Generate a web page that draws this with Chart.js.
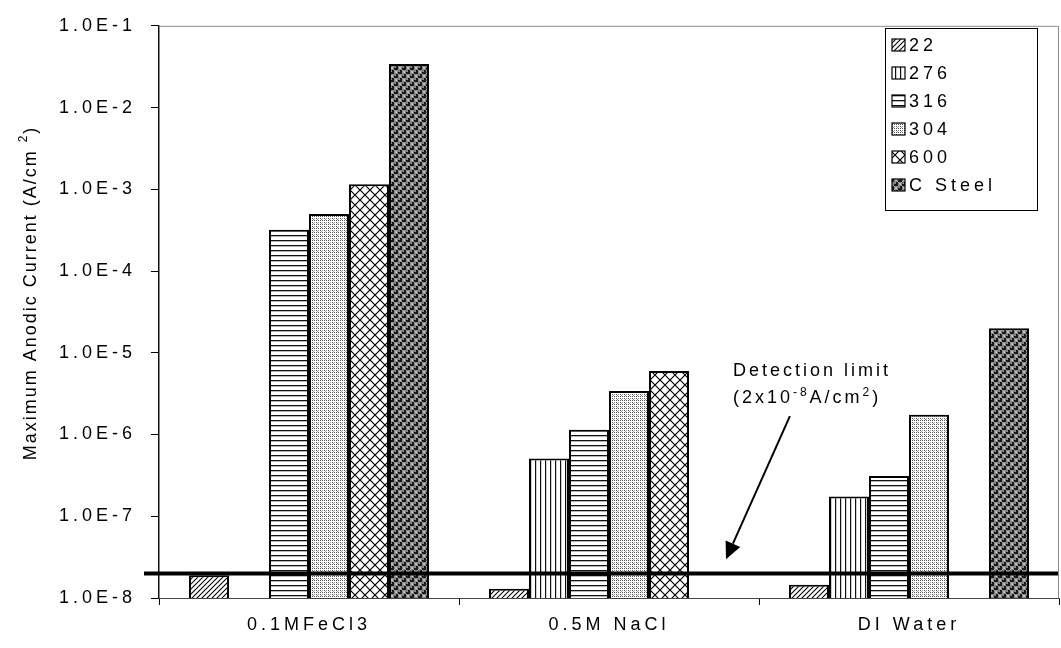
<!DOCTYPE html>
<html>
<head>
<meta charset="utf-8">
<script src="https://cdn.jsdelivr.net/npm/chart.js@4.4.0/dist/chart.umd.min.js"></script>
<style>
  html, body { margin: 0; padding: 0; background: #fff; }
  #wrap { width: 1061px; height: 648px; }
</style>
</head>
<body>
<div id="wrap"><canvas id="chart" width="1061" height="648"></canvas></div>
<script>
// Test solutions (x categories)
const categories = ['0.1MFeCl3', '0.5M NaCl', 'DI Water'];
// Alloy names, in series order
const alloys = ['22', '276', '316', '304', '600', 'C Steel'];
// Maximum anodic current, A/cm^2 (null = not measured)
const alloy22     = [1.9e-8, 1.3e-8, 1.45e-8];
const alloy276    = [null,   5.1e-7, 1.75e-7];
const alloy316    = [3.2e-4, 1.14e-6, 3.1e-7];
const alloy304    = [5.0e-4, 3.4e-6, 1.75e-6];
const alloy600    = [1.15e-3, 6.0e-6, null];
const carbonSteel = [3.4e-2, null,   2.0e-5];
// Log axis ticks
const yTickValues = [1e-8, 1e-7, 1e-6, 1e-5, 1e-4, 1e-3, 1e-2, 1e-1];
// Instrument detection limit, A/cm^2
const detectionLimit = 2e-8;

const FONT = "'Liberation Sans', Arial, Helvetica, sans-serif";
const canvas = document.getElementById('chart');
const ctx = canvas.getContext('2d');

// ---- fill patterns -------------------------------------------------------
function makePattern(w, h, paint) {
  const c = document.createElement('canvas');
  c.width = w; c.height = h;
  const g = c.getContext('2d');
  g.fillStyle = '#fff';
  g.fillRect(0, 0, w, h);
  paint(g, w, h);
  return ctx.createPattern(c, 'repeat');
}

const patDiagonal = makePattern(5, 5, (g, w, h) => {
  g.strokeStyle = '#000'; g.lineWidth = 1.1;
  for (let k = -1; k <= 1; k++) {
    g.beginPath();
    g.moveTo(-1 + k * w, h + 1);
    g.lineTo(w + 1 + k * w, -1);
    g.stroke();
  }
});
const patVertical = makePattern(5, 4, (g, w, h) => {
  g.fillStyle = '#111';
  g.fillRect(0, 0, 1.2, h);
});
const patHorizontal = makePattern(4, 5, (g, w, h) => {
  g.fillStyle = '#111';
  g.fillRect(0, 0, w, 1.3);
});
const patDotGrid = makePattern(4, 4, (g, w, h) => {
  g.fillStyle = '#555';
  g.fillRect(0, 0, 1, 1);
  g.fillRect(2, 0, 1, 1);
  g.fillRect(0, 2, 1, 1);
  g.fillStyle = '#999';
  g.fillRect(2, 2, 1, 1);
  g.fillRect(1, 3, 1, 1);
});
const patCross = makePattern(10, 10, (g, w, h) => {
  g.strokeStyle = '#000'; g.lineWidth = 1.2;
  g.beginPath();
  g.moveTo(0, 0); g.lineTo(w, h);
  g.moveTo(w, 0); g.lineTo(0, h);
  g.stroke();
});
const patBalls = makePattern(8, 8, (g, w, h) => {
  g.fillStyle = '#c4c4c4';
  g.fillRect(0, 0, w, h);
  const pts = [[0, 0], [w, 0], [0, h], [w, h], [w / 2, h / 2]];
  for (const [x, y] of pts) {
    g.fillStyle = '#1a1a1a';
    g.beginPath(); g.arc(x, y, 2.5, 0, Math.PI * 2); g.fill();
    g.fillStyle = '#f2f2f2';
    g.beginPath(); g.arc(x - 0.9, y - 0.9, 0.8, 0, Math.PI * 2); g.fill();
  }
});

const seriesValues = [alloy22, alloy276, alloy316, alloy304, alloy600, carbonSteel];
const seriesFills = [patDiagonal, patVertical, patHorizontal, patDotGrid, patCross, patBalls];

const datasets = alloys.map((name, i) => ({
  label: name,
  data: seriesValues[i],
  backgroundColor: seriesFills[i],
  borderColor: '#000',
  borderWidth: 2,
  borderSkipped: 'start',
  categoryPercentage: 0.8,
  barPercentage: 1.0
}));

function expLabel(v) {
  const e = Math.round(Math.log10(v));
  return '1.0E' + e;
}

// ---- plugins -------------------------------------------------------------
const spacingPlugin = {
  id: 'letterSpacing',
  beforeDraw(chart) { chart.ctx.letterSpacing = '4px'; }
};

const framePlugin = {
  id: 'frame',
  afterDraw(chart) {
    const { ctx, chartArea: a } = chart;
    ctx.save();
    ctx.strokeStyle = '#8a8a8a';
    ctx.lineWidth = 1;
    ctx.beginPath();
    ctx.moveTo(a.left, a.top + 0.5);
    ctx.lineTo(a.right - 0.5, a.top + 0.5);
    ctx.lineTo(a.right - 0.5, a.bottom);
    ctx.stroke();
    ctx.restore();
  }
};

function drawSuperText(ctx, x, y, parts, size) {
  // parts: [text, isSuperscript]
  let cx = x;
  for (const [t, sup] of parts) {
    ctx.font = (sup ? Math.round(size * 0.65) : size) + 'px ' + FONT;
    ctx.fillText(t, cx, sup ? y - size * 0.42 : y);
    cx += ctx.measureText(t).width;
  }
}

const annotationPlugin = {
  id: 'detection',
  afterDatasetsDraw(chart) {
    const { ctx, chartArea: a } = chart;
    const xs = chart.scales.x, ys = chart.scales.y;
    ctx.save();
    ctx.letterSpacing = '0px';
    // detection limit line
    const yl = ys.getPixelForValue(detectionLimit);
    ctx.strokeStyle = '#000';
    ctx.lineWidth = 4;
    ctx.beginPath();
    ctx.moveTo(a.left - 15, yl);
    ctx.lineTo(a.right, yl);
    ctx.stroke();

    // arrow pointing at the line
    const tx = xs.getPixelForValue(1.603), ty = ys.getPixelForValue(1.68e-6);
    const hx = xs.getPixelForValue(1.39), hy = ys.getPixelForValue(2.98e-8);
    const ang = Math.atan2(hy - ty, hx - tx);
    const headLen = 17, headW = 8;
    const bx = hx - headLen * Math.cos(ang), by = hy - headLen * Math.sin(ang);
    ctx.lineWidth = 2;
    ctx.beginPath();
    ctx.moveTo(tx, ty);
    ctx.lineTo(bx, by);
    ctx.stroke();
    ctx.fillStyle = '#000';
    ctx.beginPath();
    ctx.moveTo(hx, hy);
    ctx.lineTo(bx + headW * Math.sin(ang), by - headW * Math.cos(ang));
    ctx.lineTo(bx - headW * Math.sin(ang), by + headW * Math.cos(ang));
    ctx.closePath();
    ctx.fill();

    // label
    ctx.letterSpacing = '3px';
    ctx.textAlign = 'left';
    ctx.textBaseline = 'alphabetic';
    const lx = xs.getPixelForValue(1.413);
    ctx.font = '18px ' + FONT;
    ctx.fillText('Detection limit', lx, ys.getPixelForValue(5.2e-6));
    drawSuperText(ctx, lx, ys.getPixelForValue(2.4e-6),
      [['(2x10', false], ['-8', true], ['A/cm', false], ['2', true], [')', false]], 18);
    ctx.restore();
  }
};

const legendPlugin = {
  id: 'boxLegend',
  afterDraw(chart) {
    const { ctx } = chart;
    const left = 885, top = 28, right = 1037, bottom = 210;
    ctx.save();
    ctx.fillStyle = '#fff';
    ctx.fillRect(left, top, right - left, bottom - top);
    ctx.strokeStyle = '#000';
    ctx.lineWidth = 1;
    ctx.strokeRect(left + 0.5, top + 0.5, right - left, bottom - top);
    ctx.letterSpacing = '4px';
    ctx.font = '18px ' + FONT;
    ctx.textBaseline = 'middle';
    ctx.textAlign = 'left';
    chart.data.datasets.forEach((ds, i) => {
      const cy = 45 + i * 28;
      ctx.fillStyle = ds.backgroundColor;
      ctx.fillRect(892, cy - 6, 13, 12);
      ctx.strokeStyle = '#000';
      ctx.lineWidth = 1.2;
      ctx.strokeRect(892, cy - 6, 13, 12);
      ctx.fillStyle = '#000';
      ctx.fillText(ds.label, 909, cy + 1);
    });
    ctx.restore();
  }
};

const yTitlePlugin = {
  id: 'yTitle',
  afterDraw(chart) {
    const { ctx } = chart;
    ctx.save();
    ctx.letterSpacing = '2px';
    ctx.translate(31, 293);
    ctx.rotate(-Math.PI / 2);
    ctx.fillStyle = '#000';
    ctx.textBaseline = 'middle';
    ctx.textAlign = 'left';
    const size = 18;
    const main = 'Maximum Anodic Current (A/cm ';
    ctx.font = size + 'px ' + FONT;
    const wMain = ctx.measureText(main).width;
    const wClose = ctx.measureText(')').width;
    ctx.font = '12px ' + FONT;
    const wSup = ctx.measureText('2').width;
    let x = -(wMain + wSup + wClose) / 2;
    ctx.font = size + 'px ' + FONT;
    ctx.fillText(main, x, 0);
    x += wMain;
    ctx.font = '12px ' + FONT;
    ctx.fillText('2', x, -7);
    x += wSup;
    ctx.font = size + 'px ' + FONT;
    ctx.fillText(')', x, 0);
    ctx.restore();
  }
};

new Chart(canvas, {
  type: 'bar',
  data: { labels: categories, datasets },
  plugins: [spacingPlugin, framePlugin, annotationPlugin, legendPlugin, yTitlePlugin],
  options: {
    responsive: false,
    animation: false,
    events: [],
    layout: { padding: { top: 15, right: 2, left: 0, bottom: 0 } },
    plugins: { legend: { display: false }, tooltip: { enabled: false } },
    scales: {
      x: {
        type: 'category',
        offset: true,
        grid: { offset: true, drawOnChartArea: false, drawTicks: true, tickLength: 7, color: '#000', lineWidth: 1 },
        border: { display: true, color: '#444', width: 1 },
        ticks: { color: '#000', font: { family: FONT, size: 18 }, padding: 9, maxRotation: 0, autoSkip: false },
        afterFit(s) { s.height = 50; }
      },
      y: {
        type: 'logarithmic',
        min: 1e-8,
        max: 1e-1,
        afterBuildTicks(s) { s.ticks = yTickValues.map(v => ({ value: v })); },
        grid: { drawOnChartArea: false, drawTicks: true, tickLength: 8, color: '#000', lineWidth: 1 },
        border: { display: true, color: '#111', width: 1.5 },
        ticks: { color: '#000', font: { family: FONT, size: 18 }, padding: 15, autoSkip: false, callback: v => expLabel(v) },
        afterFit(s) { s.width = 159; }
      }
    }
  }
});
</script>
</body>
</html>
